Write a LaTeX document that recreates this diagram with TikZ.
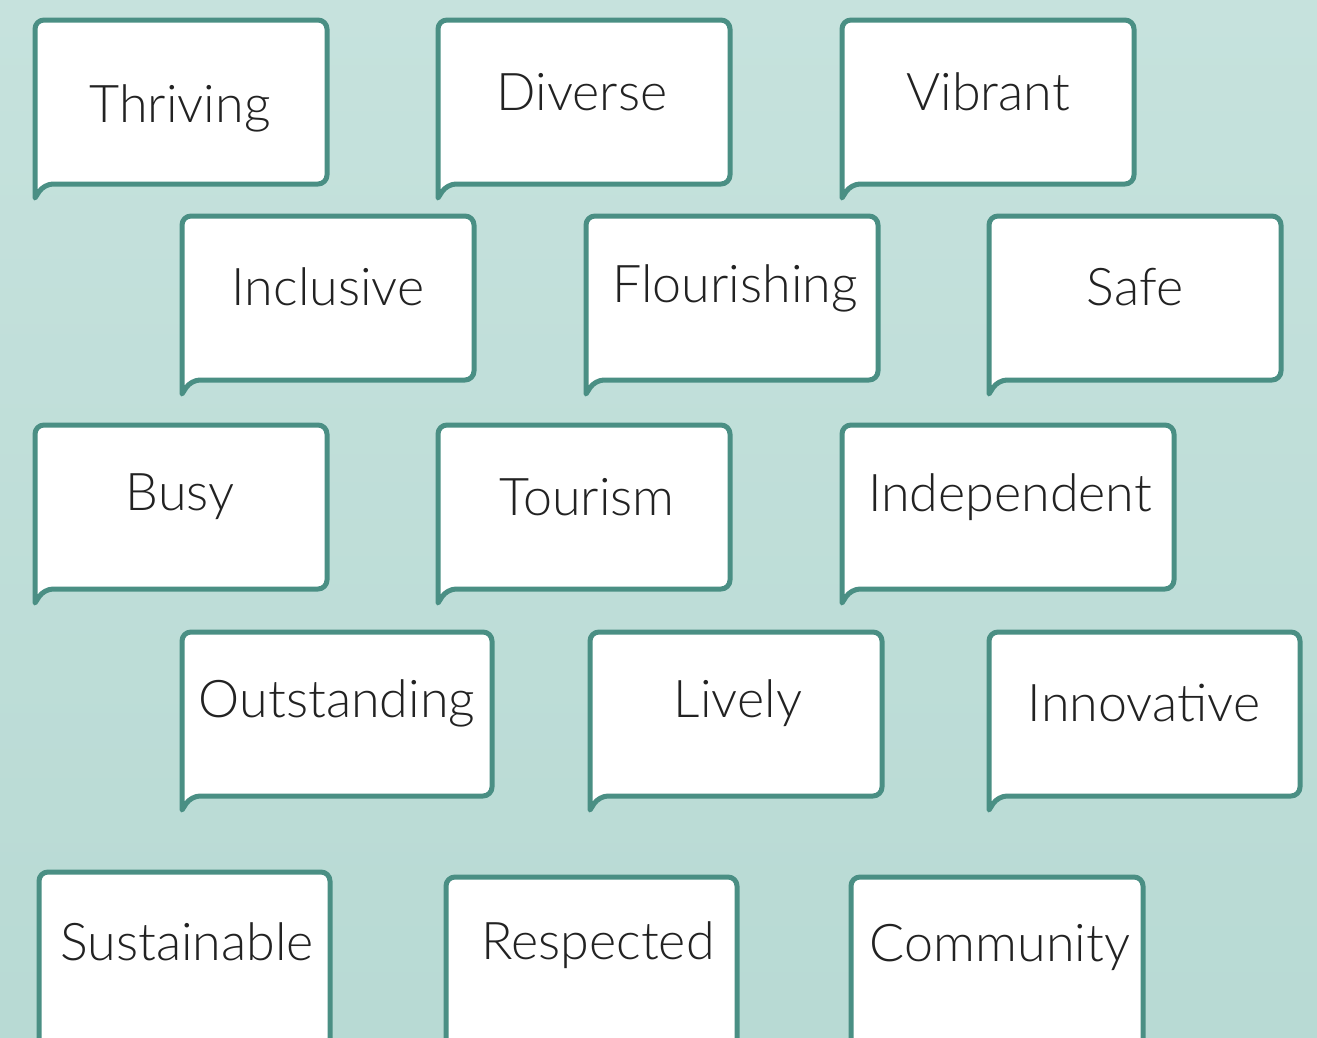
\documentclass[tikz,border=0pt]{standalone}
\usepackage{fontspec}
\newfontfamily\handfont{Lato Light}
\usepackage{tikz}

\definecolor{bgtop}{RGB}{198,226,221}
\definecolor{bgbot}{RGB}{184,218,212}
\definecolor{rim}{RGB}{74,143,132}
\definecolor{ink}{RGB}{34,34,34}

\begin{document}
\begin{tikzpicture}[x=1pt, y=-1pt, every node/.style={font=\handfont\fontsize{52}{58}\selectfont, text=ink}]
	\tikzset{bubble/.style={draw=rim, fill=white, line width=5pt, line join=round}}
	\clip (0,0) rectangle (1317,1037);
	\shade[top color=bgtop, bottom color=bgbot] (0,0) rectangle (1317,1037);
	% speech bubbles: left/top/right/bottom, text position
	\foreach \name/\xa/\ya/\xb/\yb/\xt/\yt/\word in {
		thriving/35/20/327/184/180/108/Thriving,
		diverse/438/20/730/184/582/92/Diverse,
		vibrant/842/20/1134/184/988/92/Vibrant,
		inclusive/182/216/474/380/328/287/Inclusive,
		flourishing/586/216/878/380/735/288/Flourishing,
		safe/989/216/1281/380/1135/287/Safe,
		busy/35/425/327/589/180/497/Busy,
		tourism/438/425/730/589/587/497/Tourism,
		independent/842/425/1174/589/1010/497/Independent,
		outstanding/182/632/492/796/337/703/Outstanding,
		lively/590/632/882/796/738/703/Lively,
		innovative/989/632/1300/796/1144/703/Innovative,
		sustainable/39/872/330/1060/187/942/Sustainable,
		respected/446/877/737/1060/598/945/Respected,
		community/851/877/1143/1060/1000/947/Community}
	{
	\draw[bubble] (\xa,\yb+14) [rounded corners=9pt] -- (\xa,\ya) -- (\xb,\ya) -- (\xb,\yb) -- (\xa+9,\yb) [sharp corners] -- cycle;
	\node (\name) at (\xt,\yt) {\word};
	}
\end{tikzpicture}
\end{document}
